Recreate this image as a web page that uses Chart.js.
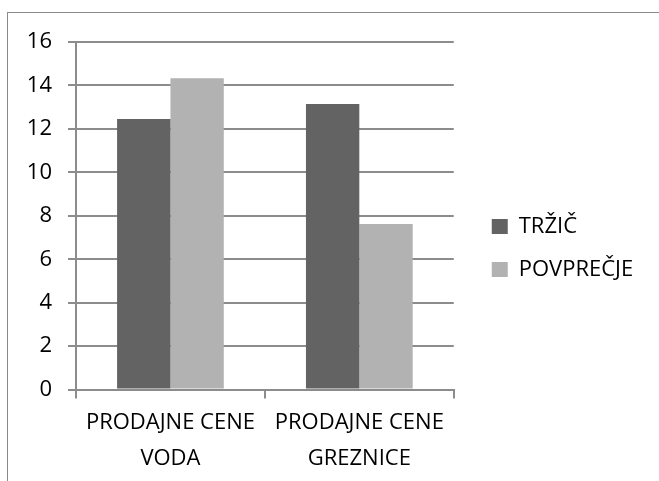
<!DOCTYPE html>
<html>
<head>
<meta charset="utf-8">
<script src="https://cdn.jsdelivr.net/npm/chart.js@4.4.3/dist/chart.umd.min.js"></script>
<style>
    html, body { margin: 0; padding: 0; background: #fff; }
    .wrap { position: relative; width: 659px; height: 481px; overflow: hidden; }
    .frame { position: absolute; left: 7px; top: 12px; width: 700px; height: 520px; border: 1px solid #8a8a8a; box-sizing: border-box; }
    canvas { position: absolute; left: 0; top: 0; }
</style>
</head>
<body>
<div class="wrap">
    <div class="frame"></div>
    <canvas id="chart" width="659" height="481"></canvas>
</div>
<script>
const categories = [['PRODAJNE CENE', 'VODA'], ['PRODAJNE CENE', 'GREZNICE']];
const seriesNames = ['TRŽIČ', 'POVPREČJE'];
const trzic = [12.45, 13.15];
const povprecje = [14.33, 7.62];
const yTicks = [0, 2, 4, 6, 8, 10, 12, 14, 16];

const gridColor = '#8c8c8c';
const font = { family: '"Open Sans", sans-serif', size: 22 };

const legendGap = 21;
const legendShiftX = 17;
const legendShiftY = -12;

// Excel leaves a gap between plot and legend: widen the legend box, then slide it right
const legendShift = {
    id: 'legendShift',
    beforeUpdate(chart) {
        const lg = chart.legend;
        if (!lg || lg._widened) return;
        const fit = lg.fit.bind(lg);
        lg.fit = function () {
            fit();
            this.width += legendGap;
        };
        lg._widened = true;
    },
    afterLayout(chart) {
        const lg = chart.legend;
        if (!lg) return;
        lg.left += legendShiftX;
        lg.right += legendShiftX;
        lg.top += legendShiftY;
        lg.bottom += legendShiftY;
    }
};

const ctx = document.getElementById('chart');

new Chart(ctx, {
    type: 'bar',
    data: {
        labels: categories,
        datasets: [
            { label: seriesNames[0], data: trzic, backgroundColor: '#636363' },
            { label: seriesNames[1], data: povprecje, backgroundColor: '#b2b2b2' }
        ]
    },
    options: {
        responsive: false,
        animation: false,
        layout: { padding: { top: 42, left: 0, right: 26, bottom: 3 } },
        datasets: { bar: { categoryPercentage: 0.565, barPercentage: 1 } },
        plugins: {
            tooltip: { enabled: false },
            legend: {
                position: 'right',
                labels: {
                    font: font,
                    color: '#000',
                    boxWidth: 16,
                    boxHeight: 15,
                    padding: 21
                }
            }
        },
        scales: {
            x: {
                afterFit: (scale) => { scale.height -= 5; },
                grid: { drawOnChartArea: false, drawTicks: true, tickLength: 9, color: gridColor, lineWidth: 2 },
                border: { color: gridColor, width: 2 },
                ticks: { font: { ...font, lineHeight: 1.6 }, color: '#000', maxRotation: 0, padding: 7 }
            },
            y: {
                min: 0,
                max: 16,
                afterBuildTicks: (scale) => { scale.ticks = yTicks.map(v => ({ value: v })); },
                afterFit: (scale) => { scale.width = 76; },
                grid: { color: gridColor, lineWidth: 2, tickLength: 8 },
                border: { color: gridColor, width: 2 },
                ticks: { font: font, color: '#000', padding: 16 }
            }
        }
    },
    plugins: [legendShift]
});
</script>
</body>
</html>
